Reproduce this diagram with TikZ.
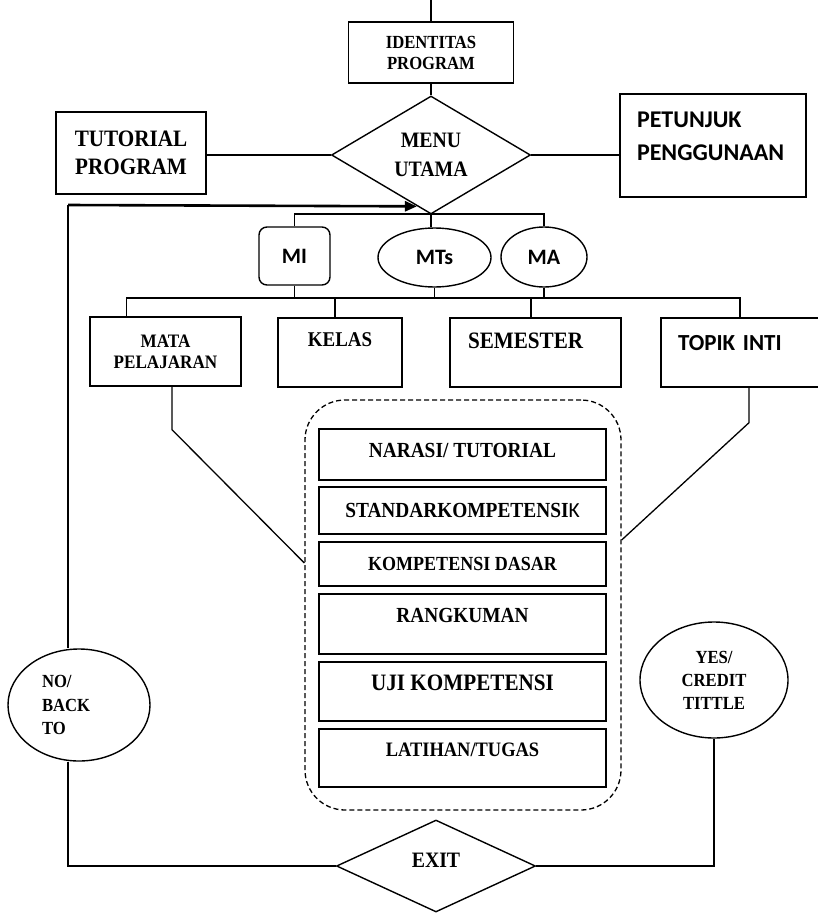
\documentclass[tikz,border=0pt]{standalone}
\usepackage{fontspec}
\setmainfont{Liberation Serif}[FakeStretch=0.9]
\newfontfamily\carlito{Carlito}
\usetikzlibrary{calc,positioning,shapes.geometric,shapes.misc,arrows.meta}

\begin{document}
\begin{tikzpicture}[x=1pt,y=-1pt,
        bx/.style={draw,line width=1.4pt,inner sep=0pt,font=\bfseries},
        ln/.style={line width=1.3pt},
        ret/.style={-{Triangle[length=12pt,width=10pt]},line width=2.6pt},
        grp/.style={draw,dash pattern=on 5pt off 3pt,line width=1.3pt,rounded corners=40pt},
        lvl/.style={bx,font=\carlito\bfseries\fontsize{22pt}{26pt}\selectfont},
        row/.style={bx,minimum height=69pt},
        item/.style={bx,minimum width=287pt}]
  \useasboundingbox (0,0) rectangle (818,913);
  \coordinate (top) at (431,0);
  \node[bx,minimum width=165pt,minimum height=61pt,align=center,font=\bfseries\fontsize{18.5pt}{21pt}\selectfont] (ident) at (431,52.5) {IDENTITAS\\PROGRAM};
  \node[bx,diamond,minimum width=199pt,minimum height=118pt,align=center,font=\bfseries\fontsize{22pt}{29pt}\selectfont] (menu) at (431,155) {MENU\\UTAMA};
  \node[bx,minimum width=150pt,minimum height=82pt,align=center,font=\bfseries\fontsize{23.5pt}{28pt}\selectfont] (tutor) at (131,153) {TUTORIAL\\PROGRAM};
  \node[bx,minimum width=186pt,minimum height=103pt,text width=152pt,align=left,text depth=51pt,font=\carlito\bfseries\fontsize{24pt}{33pt}\selectfont] (petunjuk) at (713,145.5) {PETUNJUK\\PENGGUNAAN};
  % jenjang
  \node[lvl,rounded corners=8pt,minimum width=71pt,minimum height=58pt] (mi) at (294.5,256) {MI};
  \node[lvl,ellipse,minimum width=113pt,minimum height=59pt] (mts) at (434.5,257.5) {MTs};
  \node[lvl,ellipse,minimum width=86pt,minimum height=60pt] (ma) at (544,257) {MA};
  % pilihan
  \node[row,minimum width=151pt,align=center,font=\bfseries\fontsize{19pt}{21pt}\selectfont] (mapel) at (165.5,351.5) {MATA\\PELAJARAN};
  \node[row,minimum width=124pt,text depth=26pt,font=\bfseries\fontsize{21pt}{24pt}\selectfont] (kelas) at (340,352.5) {KELAS};
  \node[row,minimum width=171pt,text width=135pt,align=left,text depth=23pt,font=\bfseries\fontsize{23.5pt}{26pt}\selectfont] (smt) at (535.5,352.5) {SEMESTER};
  \node[row,minimum width=160pt,text width=126pt,align=left,text depth=19pt,font=\carlito\bfseries\fontsize{23pt}{26pt}\selectfont] (topik) at (741,352.5) {TOPIK INTI};
  % isi materi
  \node[grp,minimum width=316pt,minimum height=410pt] (grup) at (463,605) {};
  \node[item,minimum height=51pt,text depth=9pt,font=\bfseries\fontsize{21.5pt}{24pt}\selectfont] (narasi) at (462.5,454.5) {NARASI/ TUTORIAL};
  \node[item,minimum height=47pt,font=\bfseries\fontsize{21.5pt}{24pt}\selectfont] (sk) at (462.5,510.5) {STANDARKOMPETENSI{\carlito\mdseries K}};
  \node[item,minimum height=44pt,font=\bfseries\fontsize{20pt}{24pt}\selectfont] (kd) at (462.5,564) {KOMPETENSI DASAR};
  \node[item,minimum height=60pt,text depth=18pt,font=\bfseries\fontsize{21.5pt}{24pt}\selectfont] (rangkum) at (462.5,624) {RANGKUMAN};
  \node[item,minimum height=59pt,text depth=17pt,font=\bfseries\fontsize{23.5pt}{26pt}\selectfont] (uji) at (462.5,691.5) {UJI KOMPETENSI};
  \node[item,minimum height=58pt,text depth=16pt,font=\bfseries\fontsize{20.5pt}{24pt}\selectfont] (latihan) at (462.5,758) {LATIHAN/TUGAS};
  % keluar
  \node[bx,ellipse,minimum width=142pt,minimum height=112pt,text width=74pt,align=left,font=\bfseries\fontsize{18.5pt}{23.5pt}\selectfont] (no) at (79,705) {NO/\\BACK\\TO};
  \node[bx,ellipse,minimum width=148pt,minimum height=116pt,align=center,font=\bfseries\fontsize{18.5pt}{23pt}\selectfont] (yes) at (714,680) {YES/\\CREDIT\\TITTLE};
  \node[bx,diamond,minimum width=199pt,minimum height=92pt,text depth=12pt,font=\bfseries\fontsize{22pt}{26pt}\selectfont] (exit) at (436,866) {EXIT};
  % garis
  \coordinate (bus1) at (431,214);
  \coordinate (bus2) at (431,298);
  \coordinate (back) at (68,205);
  \draw[ln] (top) -- (ident);
  \draw[ln] (ident) -- (menu);
  \draw[ln] (menu.west) -- (menu.west -| tutor.east);
  \draw[ln] (menu.east) -- (menu.east -| petunjuk.west);
  \draw[ln] (menu.south) -- (menu.south |- mts.north);
  \draw[ln] (mi.north) -- (mi.north |- bus1) -- (ma.north |- bus1) -- (ma.north);
  \foreach \n in {mi,mts,ma}{\draw[ln] (\n.south) -- (\n.south |- bus2);}
  \draw[ln] ([xshift=37pt]mapel.north west) |- ([xshift=-1pt]topik.north |- bus2) -- ([xshift=-1pt]topik.north);
  \draw[ln] ([xshift=-5pt]kelas.north) -- ([xshift=-5pt]kelas.north |- bus2);
  \draw[ln] ([xshift=-4.5pt]smt.north) -- ([xshift=-4.5pt]smt.north |- bus2);
  \draw[ln] ([xshift=6.5pt]mapel.south) -- ++(0,43) -- ([yshift=42pt]grup.west);
  \draw[ln] ([xshift=8pt]topik.south) -- ++(0,35) -- ([yshift=65pt]grup.east);
  \draw[ln] (no.north -| back) -- (back);
  \draw[ret] (back) -- ($(menu.west)!0.86!(menu.south)$);
  \draw[ln] (no.south -| back) |- (exit.west);
  \draw[ln] (exit.east) -| (yes.south);
\end{tikzpicture}
\end{document}
